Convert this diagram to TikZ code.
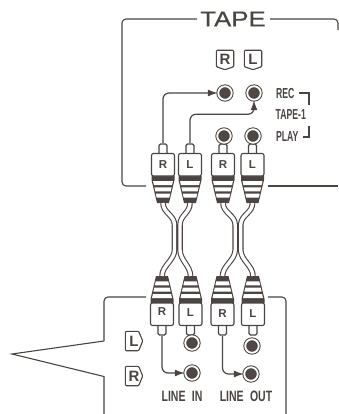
\documentclass[tikz,border=0pt]{standalone}
\usepackage{fontspec}
\setmainfont{Liberation Sans}
\newfontfamily\tapefont[FakeBold=0.5]{Liberation Sans}
\usetikzlibrary{arrows.meta}
\definecolor{ink}{HTML}{4A4442}
\definecolor{jackc}{HTML}{4F4846}
\tikzset{
  frame/.style={draw=ink,line width=1.1pt,rounded corners=4pt},
  wire/.style={draw=ink,line width=1.2pt,rounded corners=6pt},
  arrowwire/.style={wire,-{Latex[length=10pt,width=7pt]}},
  jack/.style={circle,fill=jackc,draw=ink,double=white,double distance=1.8pt,line width=1pt,minimum size=13.5pt,inner sep=0pt},
  cable/.style={draw=ink,line width=1.1pt,double=white,double distance=3.4pt,line cap=butt},
  plugtxt/.style={font=\fontsize{11.5}{11.5}\selectfont\bfseries,text=ink,inner sep=0pt},
  tagtxt/.style={font=\fontsize{15}{15}\selectfont\bfseries,text=ink,minimum width=17pt,minimum height=13pt,inner sep=0pt},
  small/.style={font=\fontsize{15}{15}\selectfont\bfseries,text=ink,xscale=.7,transform shape,inner sep=0pt},
  sidetxt/.style={font=\fontsize{14.5}{14.5}\selectfont\bfseries,text=ink,xscale=.6,transform shape,inner sep=0pt},
  plug/.pic={
    \coordinate (-tip) at (0,0);
    \coordinate (-end) at (0,60);
    \filldraw[draw=ink,fill=white,line width=1.1pt,rounded corners=1.5pt] (-4,11) -- (-4,1) -- (4,1) -- (4,11);
    \fill[ink] (-11.5,33) -- (11.5,33) -- (11.5,37) -- (6,60) -- (-6,60) -- (-11.5,37) -- cycle;
    \fill[white] (-10,38) -- (10,38) -- (9.1,42) -- (-9.1,42) -- cycle;
    \fill[white] (-8.6,44.3) -- (8.6,44.3) -- (7.7,48.3) -- (-7.7,48.3) -- cycle;
    \fill[white] (-7.2,50.6) -- (7.2,50.6) -- (6.3,54.6) -- (-6.3,54.6) -- cycle;
    \filldraw[draw=ink,fill=white,line width=1.1pt,rounded corners=2pt] (-11.5,10.5) rectangle (11.5,33);
  }
}
\newcommand{\tagdown}[3]{%
  \node[tagtxt] (#1) at (#2) {#3};
  \draw[ink,line width=1.1pt,rounded corners=1pt] ([yshift=2pt]#1.north west) -- ([yshift=2pt]#1.north east) -- ([yshift=-1pt]#1.south east) -- ([yshift=-4pt]#1.south) -- ([yshift=-1pt]#1.south west) -- cycle;}
\newcommand{\tagright}[3]{%
  \node[tagtxt] (#1) at (#2) {#3};
  \draw[ink,line width=1.1pt,rounded corners=1pt] ([yshift=3pt]#1.north west) -- ([yshift=3pt,xshift=-4pt]#1.north east) -- (#1.east) -- ([yshift=-3pt,xshift=-4pt]#1.south east) -- ([yshift=-3pt]#1.south west) -- cycle;}
\begin{document}
\begin{tikzpicture}[x=1pt,y=-1pt]
\useasboundingbox (0,0) rectangle (339,414);
% upper box
\node[font=\fontsize{21.5}{21.5}\tapefont,text=ink,xscale=1.2,transform shape,inner sep=0pt] (tape) at (233,19) {TAPE};
\coordinate (ul) at (122,19);
\coordinate (ub) at (122,186);
\coordinate (ubl) at (146,186);
\coordinate (ubr) at (268,186);
\coordinate (ur) at (338,186);
\coordinate (utr) at (338,19);
\coordinate (urm) at (338,30);
\draw[frame] ([xshift=-3pt]tape.west) -- (ul) -- (ub) -- (ubl);
\draw[frame] ([xshift=4pt]tape.east) -- (utr) -- (urm);
\draw[frame] (ubr) -- (ur);
% lower box
\coordinate (la) at (146,297);
\coordinate (lb) at (104,297);
\coordinate (lc) at (104,341);
\coordinate (ld) at (12,354);
\coordinate (le) at (104,376.5);
\coordinate (lf) at (104,414);
\coordinate (lg) at (268,297);
\coordinate (lh) at (286,297);
\coordinate (li) at (286,414);
\draw[frame] (la) -- (lb) -- (lc);
\draw[draw=ink,line width=1.1pt] (lc) -- (ld) -- (le) -- (lf);
\draw[frame] (lg) -- (lh) -- (li);
% plugs
\pic (a) at (163,143) {plug};
\pic (b) at (190,143) {plug};
\pic (c) at (223,143) {plug};
\pic (d) at (252.5,143) {plug};
\pic[yscale=-1] (e) at (162,336) {plug};
\pic[yscale=-1] (f) at (190.5,336) {plug};
\pic[yscale=-1] (g) at (222.5,336) {plug};
\pic[yscale=-1] (h) at (253,336) {plug};
% cables
\coordinate (m1) at (174.5,225); \coordinate (m1b) at (174.5,250);
\coordinate (m2) at (180,225); \coordinate (m2b) at (180,250);
\coordinate (m3) at (235.2,225); \coordinate (m3b) at (235.2,250);
\coordinate (m4) at (240.7,225); \coordinate (m4b) at (240.7,250);
\draw[cable] (a-end) .. controls +(0,10) and +(0,-10) .. (m1) -- (m1b) .. controls +(0,10) and +(0,-10) .. (e-end);
\draw[cable] (b-end) .. controls +(0,10) and +(0,-10) .. (m2) -- (m2b) .. controls +(0,10) and +(0,-10) .. (f-end);
\draw[cable] (c-end) .. controls +(0,10) and +(0,-10) .. (m3) -- (m3b) .. controls +(0,10) and +(0,-10) .. (g-end);
\draw[cable] (d-end) .. controls +(0,10) and +(0,-10) .. (m4) -- (m4b) .. controls +(0,10) and +(0,-10) .. (h-end);
% plug letters
\node[plugtxt] (ta) at (163,165) {R};
\node[plugtxt] (tb) at (190,165) {L};
\node[plugtxt] (tc) at (223,165) {R};
\node[plugtxt] (td) at (252.5,165) {L};
\node[plugtxt] (te) at (162,312) {R};
\node[plugtxt] (tf) at (190.5,313) {L};
\node[plugtxt] (tg) at (222.5,314) {R};
\node[plugtxt] (th) at (253,314) {L};
% jacks
\node[jack] (j1) at (225,93) {};
\node[jack] (j2) at (254,93) {};
\node[jack] (j3) at (224,136) {};
\node[jack] (j4) at (253,136) {};
\node[jack] (j5) at (192,343) {};
\node[jack] (j6) at (192,373) {};
\node[jack] (j7) at (252,346) {};
\node[jack] (j8) at (251,374) {};
% arrows
\draw[arrowwire] (a-tip) |- (j1);
\draw[arrowwire] (b-tip) |- ([yshift=-14pt]j2.south) -- (j2.south);
\draw[arrowwire] (e-tip) |- (j6);
\draw[arrowwire] (g-tip) |- (j8);
% tags
\tagdown{tr}{225,59}{R}
\tagdown{tl}{253,59}{L}
\tagright{bl}{134,341}{L}
\tagright{br}{134,376}{R}
% side labels
\node[sidetxt,anchor=west] (rec) at (276,94) {REC};
\node[sidetxt,anchor=west] (t1) at (275.5,115) {TAPE-1};
\node[sidetxt,anchor=west] (play) at (276,136.5) {PLAY};
\coordinate (r1) at (299,93); \coordinate (r2) at (309,93); \coordinate (r3) at (309,105);
\coordinate (p1) at (309,126); \coordinate (p2) at (309,137); \coordinate (p3) at (303,137);
\draw[ink,line width=1.2pt] (r1) -- (r2) -- (r3);
\draw[ink,line width=1.2pt] (p1) -- (p2) -- (p3);
\node[small] (li1) at (182,396) {LINE\hspace{9pt}IN};
\node[small] (lo1) at (246,396) {LINE\hspace{9pt}OUT};
\end{tikzpicture}
\end{document}
